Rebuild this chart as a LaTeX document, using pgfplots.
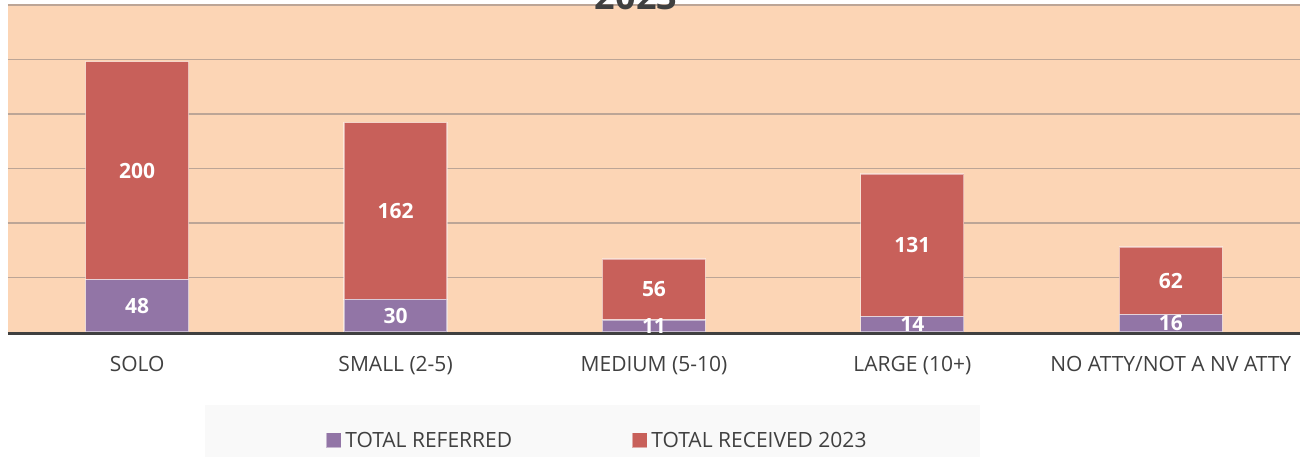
\documentclass[border=0pt]{standalone}
\usepackage{pgfplots}
\pgfplotsset{compat=1.18}
\usepackage{fontspec}
\setmainfont{Open Sans}
\definecolor{peach}{RGB}{252,213,181}
\definecolor{barred}{RGB}{200,96,90}
\definecolor{barpurple}{RGB}{146,117,166}
\definecolor{gridc}{RGB}{188,165,150}
\definecolor{txt}{RGB}{64,64,64}
\definecolor{legbg}{RGB}{249,249,249}
\begin{document}
\begin{tikzpicture}[x=1pt,y=1pt]
\useasboundingbox (0,0) rectangle (1309,457);
\clip (0,0) rectangle (1309,457);
\fill[legbg] (205,52) rectangle (980,-10);
\begin{axis}[at={(8pt,125pt)}, anchor=south west, scale only axis, width=1292pt, height=327pt,
 ybar stacked, bar width=103pt,
 xmin=-0.5, xmax=4.5, ymin=0, ymax=300,
 xtick={0,...,4}, xticklabels={SOLO,SMALL (2-5),MEDIUM (5-10),LARGE (10+),NO ATTY/NOT A NV ATTY},
 ytick={50,100,...,300}, yticklabels={},
 ymajorgrids, grid style={gridc, line width=1.5pt},
 major tick length=0pt,
 axis line style={draw=none},
 axis background/.style={fill=peach},
 xticklabel style={anchor=base, yshift=-39.5pt, font=\fontsize{21}{25}\selectfont, text=txt},
 legend columns=2,
 legend style={at={(0.2461,-0.3318)}, anchor=west, draw=none, fill=none, inner sep=0pt,
   font=\fontsize{21}{25}\selectfont, text=txt, nodes={inner sep=0pt},
   /tikz/every even column/.append style={column sep=120pt}},
]
\addplot[fill=barpurple, draw=white, draw opacity=0.5, line width=1.2pt,
  legend image code/.code={\fill[barpurple] (0pt,-7pt) rectangle (14pt,7pt); \path (18pt,0pt);}]
  coordinates {(0,48) (1,30) (2,11) (3,14) (4,16)};
\addlegendentry{TOTAL REFERRED}
\addplot[fill=barred, draw=white, draw opacity=0.5, line width=1.2pt,
  legend image code/.code={\fill[barred] (0pt,-7pt) rectangle (14pt,7pt); \path (18pt,0pt);}]
  coordinates {(0,200) (1,162) (2,56) (3,131) (4,62)};
\addlegendentry{TOTAL RECEIVED 2023}
\end{axis}
\begin{axis}[at={(8pt,125pt)}, anchor=south west, scale only axis, width=1292pt, height=327pt,
 xmin=-0.5, xmax=4.5, ymin=0, ymax=300, hide axis, clip=false]
\draw[txt, line width=3pt] ([yshift=-1.5pt]rel axis cs:0,0) -- ([yshift=-1.5pt]rel axis cs:1,0);
\addplot[draw=none, mark=none, nodes near coords, point meta=explicit symbolic,
  every node near coord/.append style={anchor=center, text=white, font=\fontsize{21}{25}\selectfont\bfseries}]
  coordinates {(0,24) [48] (0,148) [200] (1,15) [30] (1,111) [162] (2,5.5) [11] (2,39) [56] (3,7) [14] (3,79.5) [131] (4,8) [16] (4,47) [62]};
\end{axis}
\node[anchor=base, font=\fontsize{36}{40}\selectfont\bfseries, text=txt, inner sep=0pt] at (636,447) {2023};
\end{tikzpicture}
\end{document}
